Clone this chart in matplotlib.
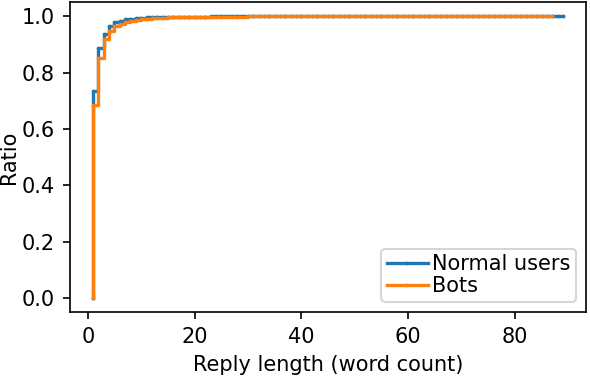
import matplotlib.pyplot as plt

# 返信の長さ（単語数）の累積分布
normal_x = [1] + list(range(1, 90))
normal_y = [0.0, 0.735, 0.888, 0.939, 0.965, 0.979, 0.985, 0.989, 0.992, 0.994, 0.995,
            0.996, 0.997, 0.9975, 0.998, 0.9983, 0.9986, 0.9988, 0.999, 0.9991, 0.9992]
normal_y += [0.9993, 0.9994, 0.9995, 0.9995, 0.9996, 0.9996, 0.9997, 0.9997, 0.9997, 0.9998]
normal_y += [0.9998] * 20 + [0.9999] * 30 + [0.99995] * 8 + [1.0]

bots_x = [1] + list(range(1, 88))
bots_y = [0.0, 0.685, 0.853, 0.918, 0.947, 0.965, 0.974, 0.980, 0.985, 0.988, 0.990,
          0.992, 0.993, 0.994, 0.995, 0.996, 0.9965, 0.997, 0.9975, 0.998, 0.998]
bots_y += [0.9983, 0.9985, 0.9987, 0.9988, 0.999, 0.9991, 0.9992, 0.9993, 0.9994, 0.9995]
bots_y += [0.9996] * 20 + [0.9998] * 25 + [0.9999] * 11 + [1.0]

fig = plt.figure(figsize=(590 / 150, 380 / 150), dpi=150)
ax = fig.add_axes([0.118, 0.179, 0.876, 0.815])

ax.plot(normal_x, normal_y, drawstyle="steps-post", marker=".", markersize=1.5, linewidth=1.6, label="Normal users")
ax.plot(bots_x, bots_y, drawstyle="steps-post", marker=".", markersize=1.5, linewidth=1.6, label="Bots")

ax.set_xlabel("Reply length (word count)")
ax.set_ylabel("Ratio", labelpad=1.5)
ax.set_xticks([0, 20, 40, 60, 80])
ax.legend(loc="lower right", borderpad=0.25, labelspacing=0.1, handletextpad=0.2)

fig.savefig("out.png", dpi=150)
